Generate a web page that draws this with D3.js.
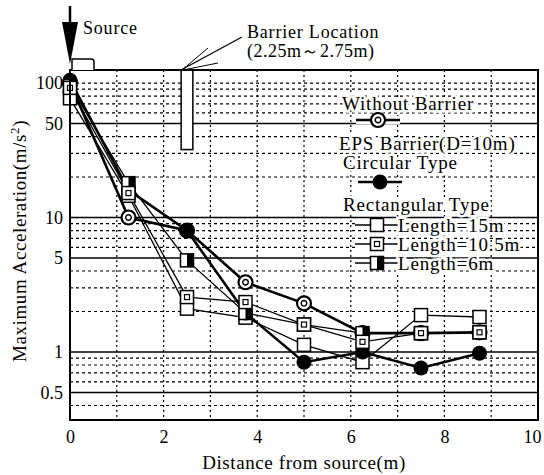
<!DOCTYPE html>
<html>
<head>
<meta charset="utf-8">
<script src="https://cdn.jsdelivr.net/npm/d3@7"></script>
<style>
  body { margin: 0; background: #fff; }
  text { font-family: "Liberation Serif", "DejaVu Serif", serif; fill: #000; }
</style>
</head>
<body>
<div id="chart"></div>
<script>
// data
var distances = [0, 1.25, 2.5, 3.75, 5, 6.25, 7.5, 8.75]
var withoutBarrier = [100, 10, 8, 3.3, 2.3, 1.38, 1.38, 1.4]
var circularType = [105, 16, 8, 1.95, 0.84, 1.0, 0.76, 0.98]
var rectLength15 = [77, 14.5, 2.1, 1.8, 1.13, 0.84, 1.88, 1.82]
var rectLength105 = [92, 15.2, 2.56, 2.35, 1.6, 1.19, 1.38, 1.4]
var rectLength6 = [95, 18, 4.8, 1.95, 1.6, 1.38, 1.38, 1.4]
var xTicks = [0, 2, 4, 6, 8, 10]
var yTickLabels = [0.5, 1, 5, 10, 50, 100]
var yMajorGrid = [0.5, 1, 5, 10, 50]
var yMinorGrid = [0.4, 0.6, 0.7, 0.8, 0.9, 2, 3, 4, 6, 7, 8, 9, 20, 30, 40, 60, 70, 80, 90, 100]
var barrierSpan = [2.375, 2.625]
var barrierDepth = 32

var svgWidth = 544
var svgHeight = 475
var margin = { top: 70, right: 6, bottom: 55, left: 70 }
var width = svgWidth - margin.left - margin.right
var height = svgHeight - margin.top - margin.bottom

var svg = d3.select('#chart')
  .append('svg')
  .attr('width', svgWidth)
  .attr('height', svgHeight)

var g = svg.append('g')
  .attr('transform', `translate(${margin.left}, ${margin.top})`)

var x = d3.scaleLinear().domain([0, 10]).range([0, width])
var y = d3.scaleLog().domain([0.312, 125]).range([height, 0])

// grid
g.selectAll('.vgrid')
  .data(d3.range(1, 10))
  .enter().append('line')
  .attr('x1', d => x(d)).attr('x2', d => x(d))
  .attr('y1', 0).attr('y2', height)
  .attr('stroke', '#000').attr('stroke-width', 1.2)
  .attr('stroke-dasharray', '2,3')

g.selectAll('.hminor')
  .data(yMinorGrid)
  .enter().append('line')
  .attr('x1', 0).attr('x2', width)
  .attr('y1', d => y(d)).attr('y2', d => y(d))
  .attr('stroke', '#000').attr('stroke-width', 1.2)
  .attr('stroke-dasharray', '3,3')

g.selectAll('.hmajor')
  .data(yMajorGrid)
  .enter().append('line')
  .attr('x1', 0).attr('x2', width)
  .attr('y1', d => y(d)).attr('y2', d => y(d))
  .attr('stroke', '#000').attr('stroke-width', 1.5)

// barrier
g.append('rect')
  .attr('x', x(barrierSpan[0]))
  .attr('y', 0)
  .attr('width', x(barrierSpan[1]) - x(barrierSpan[0]))
  .attr('height', y(barrierDepth))
  .attr('fill', '#fff')
  .attr('stroke', '#000')
  .attr('stroke-width', 1.5)

// axes (labels only, frame drawn below)
var xAxis = d3.axisBottom(x).tickValues(xTicks).tickSize(0).tickPadding(10)
var yAxis = d3.axisLeft(y).tickValues(yTickLabels).tickFormat(d3.format('')).tickSize(0).tickPadding(7)

var xg = g.append('g').attr('transform', `translate(0, ${height})`).call(xAxis)
var yg = g.append('g').call(yAxis)
xg.select('.domain').remove()
yg.select('.domain').remove()
xg.selectAll('text').style('font-size', '18px').style('font-family', '"Liberation Serif", serif')
  .attr('dx', d => d === 10 ? -6 : 0)
yg.selectAll('text').style('font-size', '18px').style('font-family', '"Liberation Serif", serif')

// series lines
var series = [
  { name: 'without', values: withoutBarrier, width: 2.6 },
  { name: 'circular', values: circularType, width: 2.6 },
  { name: 'len15', values: rectLength15, width: 1.3 },
  { name: 'len105', values: rectLength105, width: 1.3 },
  { name: 'len6', values: rectLength6, width: 1.3 }
]

var line = d3.line()
  .x((d, i) => x(distances[i]))
  .y(d => y(d))

series.forEach(s => {
  g.append('path')
    .datum(s.values)
    .attr('d', line)
    .attr('fill', 'none')
    .attr('stroke', '#000')
    .attr('stroke-width', s.width)
})

// marker drawing helper
function marker(sel, kind) {
  if (kind === 'without') {
    sel.append('circle').attr('r', 7).attr('fill', '#fff').attr('stroke', '#000').attr('stroke-width', 2.2)
    sel.append('circle').attr('r', 2.8).attr('fill', 'none').attr('stroke', '#000').attr('stroke-width', 1.4)
  } else if (kind === 'circular') {
    sel.append('circle').attr('r', 7.5).attr('fill', '#000')
  } else if (kind === 'len15') {
    sel.append('rect').attr('x', -6.5).attr('y', -6.5).attr('width', 13).attr('height', 13)
      .attr('fill', '#fff').attr('stroke', '#000').attr('stroke-width', 1.5)
  } else if (kind === 'len105') {
    sel.append('rect').attr('x', -6.5).attr('y', -6.5).attr('width', 13).attr('height', 13)
      .attr('fill', '#fff').attr('stroke', '#000').attr('stroke-width', 1.5)
    sel.append('rect').attr('x', -2.5).attr('y', -2.5).attr('width', 5).attr('height', 5)
      .attr('fill', 'none').attr('stroke', '#000').attr('stroke-width', 1.2)
  } else if (kind === 'len6') {
    sel.append('rect').attr('x', -6.5).attr('y', -6.5).attr('width', 13).attr('height', 13)
      .attr('fill', '#fff').attr('stroke', '#000').attr('stroke-width', 1.5)
    sel.append('rect').attr('x', 0).attr('y', -6.5).attr('width', 6.5).attr('height', 13)
      .attr('fill', '#000')
  }
}

var drawOrder = ['without', 'len15', 'circular', 'len6', 'len105']
drawOrder.forEach(name => {
  var s = series.find(d => d.name === name)
  g.selectAll('.m-' + name)
    .data(s.values)
    .enter().append('g')
    .attr('transform', (d, i) => `translate(${x(distances[i])}, ${y(d)})`)
    .each(function () { marker(d3.select(this), name) })
})

// frame
g.append('rect')
  .attr('width', width).attr('height', height)
  .attr('fill', 'none').attr('stroke', '#000').attr('stroke-width', 2)

// legend
var legendText = (tx, ty, str) => {
  svg.append('text')
    .attr('x', tx).attr('y', ty)
    .attr('dy', '0.35em')
    .style('font-size', '19px')
    .style('letter-spacing', '0.8px')
    .attr('stroke', '#fff').attr('stroke-width', 5)
    .attr('paint-order', 'stroke')
    .text(str)
}
var legendSymbol = (cx, cy, kind, lw) => {
  svg.append('line')
    .attr('x1', cx - 22).attr('x2', cx + 22)
    .attr('y1', cy).attr('y2', cy)
    .attr('stroke', '#fff').attr('stroke-width', 8)
  svg.append('line')
    .attr('x1', cx - 22).attr('x2', cx + 22)
    .attr('y1', cy).attr('y2', cy)
    .attr('stroke', '#000').attr('stroke-width', lw)
  var m = svg.append('g').attr('transform', `translate(${cx}, ${cy})`)
  marker(m, kind)
}

legendText(342, 103, 'Without Barrier')
legendSymbol(378, 120, 'without', 2.6)
legendText(339, 143, 'EPS Barrier(D=10m)')
legendText(343, 162, 'Circular Type')
legendSymbol(380, 182, 'circular', 2.6)
legendText(343, 204, 'Rectangular Type')
legendSymbol(377, 225, 'len15', 1.3)
legendText(398, 225, 'Length=15m')
legendSymbol(377, 244, 'len105', 1.3)
legendText(398, 244, 'Length=10.5m')
legendSymbol(377, 263, 'len6', 1.3)
legendText(398, 263, 'Length=6m')

// axis titles
svg.append('text')
  .attr('x', margin.left + width / 2)
  .attr('y', 469)
  .attr('text-anchor', 'middle')
  .style('font-size', '19px')
  .style('letter-spacing', '0.6px')
  .text('Distance from source(m)')

svg.append('text')
  .attr('transform', `translate(26, ${margin.top + height / 2 - 4}) rotate(-90)`)
  .attr('text-anchor', 'middle')
  .style('font-size', '19px')
  .style('letter-spacing', '0.6px')
  .html('Maximum Acceleration(m/s<tspan dy="-7" font-size="13">2</tspan><tspan dy="7">)</tspan>')

// source arrow and footing
var x0 = margin.left + x(0)
svg.append('line')
  .attr('x1', x0).attr('x2', x0).attr('y1', 6).attr('y2', 30)
  .attr('stroke', '#000').attr('stroke-width', 2.5)
svg.append('path')
  .attr('d', `M${x0 - 8},22 L${x0 + 8},22 L${x0},64 Z`)
  .attr('fill', '#000')
svg.append('path')
  .attr('d', `M${x0 + 2},${margin.top} L${x0 + 2},59 L${x0 + 21},59 Q${x0 + 24},59 ${x0 + 24},62 L${x0 + 24},${margin.top}`)
  .attr('fill', '#fff').attr('stroke', '#000').attr('stroke-width', 1.5)

svg.append('text')
  .attr('x', 83).attr('y', 34)
  .style('font-size', '18px')
  .style('letter-spacing', '0.8px')
  .text('Source')

// barrier location annotation
var bx = margin.left + x(2.5)
svg.append('line').attr('x1', bx - 6).attr('y1', margin.top).attr('x2', 242).attr('y2', 37)
  .attr('stroke', '#000').attr('stroke-width', 1.3)
svg.append('line').attr('x1', bx - 5).attr('y1', margin.top).attr('x2', 208).attr('y2', 48)
  .attr('stroke', '#000').attr('stroke-width', 1)
svg.append('line').attr('x1', bx - 4).attr('y1', margin.top).attr('x2', 218).attr('y2', 63)
  .attr('stroke', '#000').attr('stroke-width', 1)

svg.append('text')
  .attr('x', 247).attr('y', 38)
  .style('font-size', '18px')
  .style('letter-spacing', '0.8px')
  .text('Barrier Location')
svg.append('text')
  .attr('x', 247).attr('y', 57)
  .style('font-size', '18px')
  .style('letter-spacing', '0.5px')
  .text('(2.25m～2.75m)')
</script>
</body>
</html>
